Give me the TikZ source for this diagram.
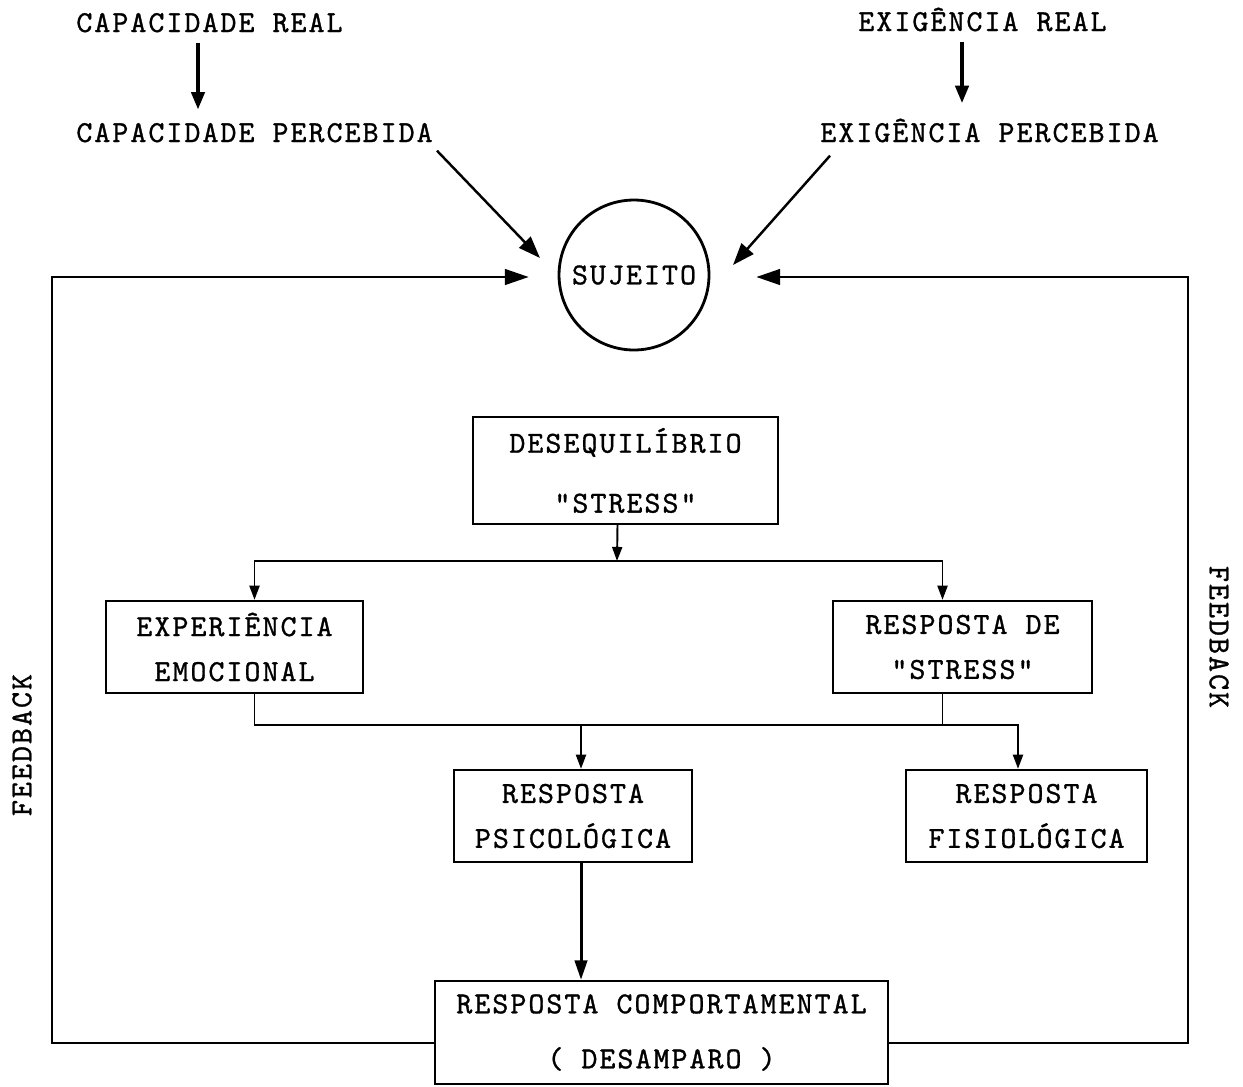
\documentclass[tikz,border=0pt]{standalone}
\usepackage{fontspec}
\newfontfamily\typewriter{lmmono10-regular.otf}[LetterSpace=6.6,FakeBold=1]
\usetikzlibrary{arrows.meta,calc}
\begin{document}
\begin{tikzpicture}[x=0.02cm,y=-0.02cm,
  txt/.style={font=\typewriter\fontsize{17.35pt}{25.6pt}\selectfont},
  lbl/.style={txt, inner sep=0pt, anchor=base west},
  box/.style={txt, draw, line width=1.4pt, align=center, inner sep=0pt},
  line/.style={line width=1.1pt},
  arr/.style={line, -{Triangle[length=8pt,width=5.7pt]}},
  toparr/.style={line width=2.3pt, -{Triangle[length=10pt,width=7.4pt]}},
  diagarr/.style={line width=1.4pt, -{Triangle[length=12.5pt,width=9pt]}},
  fbarr/.style={line, -{Triangle[length=13.5pt,width=9pt]}},
  downarr/.style={line width=1.7pt, -{Triangle[length=11pt,width=7pt]}},
]
\useasboundingbox (0,0) rectangle (1243,1086);

% top labels
\node[lbl] (capreal) at (76,32) {CAPACIDADE REAL};
\node[lbl] (capperc) at (76,142) {CAPACIDADE PERCEBIDA};
\node[lbl] (exreal) at (858,31) {EXIGÊNCIA REAL};
\node[lbl] (experc) at (820,142) {EXIGÊNCIA PERCEBIDA};

% subject
\node[txt, draw, circle, line width=1.6pt, minimum size=3cm, inner sep=0pt] (subj) at (634,275) {SUJEITO};

% boxes
\node[box, minimum width=6.10cm, minimum height=2.14cm] (deseq) at (625.5,470.5) {DESEQUILÍBRIO\\[8.5pt]"STRESS"};
\node[box, minimum width=5.14cm, minimum height=1.84cm] (exper) at (234.5,647) {EXPERIÊNCIA\\EMOCIONAL};
\node[box, minimum width=5.18cm, minimum height=1.84cm] (respde) at (962.5,647) {RESPOSTA DE\\"STRESS"};
\node[box, minimum width=4.76cm, minimum height=1.84cm] (psico) at (573,816) {RESPOSTA\\PSICOLÓGICA};
\node[box, minimum width=4.82cm, minimum height=1.84cm] (fisio) at (1026.5,816) {RESPOSTA\\FISIOLÓGICA};
\node[box, minimum width=9.06cm, minimum height=2.06cm] (comport) at (661.5,1032.5) {RESPOSTA COMPORTAMENTAL\\[5.7pt]( DESAMPARO )};

% feedback labels
\node[txt, rotate=90] (fbleft) at (22,745) {FEEDBACK};
\node[txt, rotate=-90] (fbright) at (1219,637) {FEEDBACK};

% real -> perceived
\draw[toparr] ($(capreal.south west)+(122,10)$) -- ($(capperc.north west)+(122,-13)$);
\draw[toparr] ($(exreal.south west)+(104,10)$) -- ($(experc.north west)+(142,-15)$);

% perceived -> subject
\draw[diagarr] ($(capperc.south east)+(4,8)$) -- ($(subj.center)+(-94,-17)$);
\draw[diagarr] ($(experc.south west)+(10,13)$) -- ($(subj.center)+(99,-10)$);

% imbalance splits into two branches
\coordinate (split) at (617,561);
\draw[arr] ($(deseq.south)+(-8,0)$) -- (split);
\draw[arr] (split) -| ($(exper.north)+(20,0)$);
\draw[arr] (split) -| ($(respde.north)+(-20,0)$);

% branches join into the responses
\coordinate (join) at (581,725);
\draw[line] ($(exper.south)+(20,0)$) |- (join);
\draw[line] ($(respde.south)+(-20,0)$) |- (join);
\draw[arr] (join) -- ($(psico.north)+(8,0)$);
\draw[arr] (join) -| ($(fisio.north)+(-8.5,0)$);

% psychological -> behavioural
\draw[downarr] ($(psico.south)+(8,0)$) -- ($(comport.north)+(-80.5,0)$);

% feedback loops
\coordinate (fbl) at (52,277);
\coordinate (fbr) at (1188,277);
\draw[fbarr] ($(comport.west)+(0,10.5)$) -| (fbl) -- ($(subj.west)+(-29,2)$);
\draw[fbarr] ($(comport.east)+(0,10.5)$) -| (fbr) -- ($(subj.east)+(46,2)$);

\end{tikzpicture}
\end{document}
